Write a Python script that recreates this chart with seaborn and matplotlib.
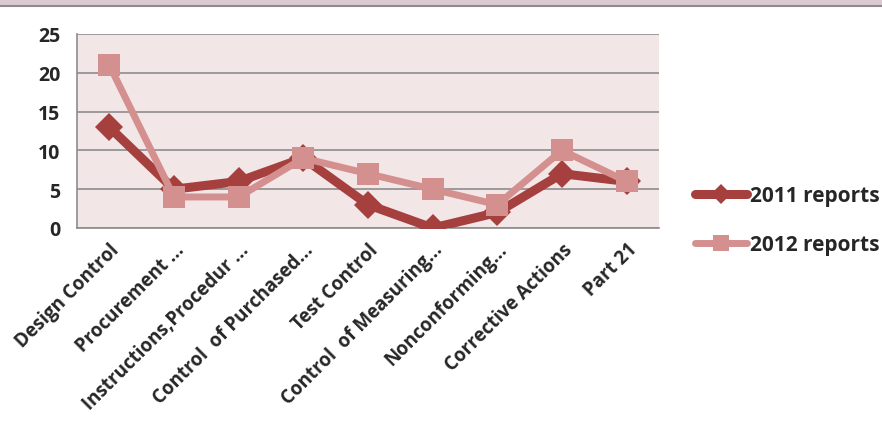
import pandas as pd
import seaborn as sns
import matplotlib.pyplot as plt
from matplotlib.patches import Rectangle
from matplotlib.lines import Line2D

categories = ['Design Control', 'Procurement ...', 'Instructions,Procedur ...',
              'Control  of Purchased...', 'Test Control', 'Control  of Measuring...',
              'Nonconforming...', 'Corrective Actions', 'Part 21']
reports_2011 = [13, 5, 6, 9, 3, 0, 2, 7, 6]
reports_2012 = [21, 4, 4, 9, 7, 5, 3, 10, 6]

dark_red = '#a5403f'
light_red = '#d48f8f'

sns.set_style('white')
plt.rcParams['font.family'] = ['Open Sans', 'DejaVu Sans']
plt.rcParams['font.weight'] = 'bold'

df = pd.DataFrame({'pos': range(len(categories)),
                   '2011 reports': reports_2011,
                   '2012 reports': reports_2012})

fig = plt.figure(figsize=(8.82, 4.31), dpi=100)
ax = fig.add_axes([77 / 882, 1 - 229 / 431, (659 - 77) / 882, (229 - 35) / 431])

# top strip of the original slide
fig.patches.append(Rectangle((0, 1 - 7 / 431), 1, 7 / 431, transform=fig.transFigure,
                             facecolor='#dac9d1', edgecolor='none', zorder=0))
fig.add_artist(Line2D([0, 1], [1 - 7 / 431] * 2, transform=fig.transFigure,
                      color='#8c8c8c', lw=1.5))

ax.set_facecolor('#f2e6e6')
sns.lineplot(data=df, x='pos', y='2011 reports', ax=ax, color=dark_red, lw=6.5,
             marker='D', markersize=14, markeredgewidth=0, label='2011 reports', zorder=3)
sns.lineplot(data=df, x='pos', y='2012 reports', ax=ax, color=light_red, lw=5,
             marker='s', markersize=16, markeredgewidth=0, label='2012 reports', zorder=4)

ax.set_xlim(-0.5, len(categories) - 0.5)
ax.set_ylim(0, 25)
ax.set_yticks(range(0, 26, 5))
ax.yaxis.grid(True, color='#8c8c8c', lw=1.2)
ax.set_axisbelow(True)
ax.set_xticks(range(len(categories)))
ax.set_xticklabels(categories, rotation=45, ha='right', rotation_mode='anchor')
ax.set_xticks([i - 0.5 for i in range(len(categories) + 1)], minor=True)
ax.tick_params(axis='x', which='major', length=0, pad=8, labelsize=13.5)
ax.tick_params(axis='x', which='minor', length=6, width=1.2, color='#8c8c8c', direction='out')
ax.tick_params(axis='y', length=6, width=1.2, color='#8c8c8c', labelsize=14, pad=6)
ax.set_xlabel('')
ax.set_ylabel('')
for side in ['top', 'right']:
    ax.spines[side].set_visible(False)
for side in ['left', 'bottom']:
    ax.spines[side].set_color('#8c8c8c')
    ax.spines[side].set_linewidth(1.2)
for lab in ax.get_xticklabels() + ax.get_yticklabels():
    lab.set_fontweight('bold')

leg = ax.legend(loc='center left', bbox_to_anchor=(1.03, 0.04), frameon=False,
                fontsize=15, handlelength=2.5, labelspacing=1.35, handletextpad=0.12,
                markerscale=0.75)
for t in leg.get_texts():
    t.set_fontweight('bold')
for h in leg.get_lines():
    h.set_solid_capstyle('round')

fig.savefig('out.png', dpi=100)
